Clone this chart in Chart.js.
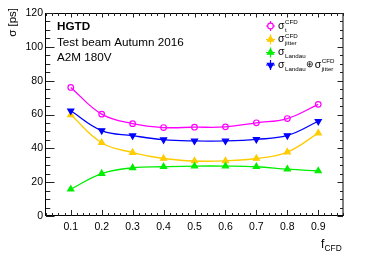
<!DOCTYPE html>
<html><head><meta charset="utf-8">
<script src="https://cdn.jsdelivr.net/npm/chart.js@4/dist/chart.umd.min.js"></script>
<style>html,body{margin:0;padding:0;background:#fff}canvas{display:block}</style>
</head><body>
<canvas id="c" width="381" height="258"></canvas>
<script>
const fCFD = [0.1, 0.2, 0.3, 0.4, 0.5, 0.6, 0.7, 0.8, 0.9];
const sigmaT = [76, 60.2, 54.6, 52.3, 52.5, 52.7, 55.1, 57.6, 66];
const sigmaJitter = [59.8, 43.3, 37.5, 34, 32.5, 32.6, 34, 37.8, 49];
const sigmaLandau = [15.8, 25.1, 28.5, 29.1, 29.5, 29.5, 29.1, 27.7, 26.6];
const sigmaComb = [62.2, 50.5, 47.5, 45.1, 44.4, 44.4, 45.3, 47.6, 56];
const xTicks = [0.1, 0.2, 0.3, 0.4, 0.5, 0.6, 0.7, 0.8, 0.9];
const yTicks = [0, 20, 40, 60, 80, 100, 120];

const FONT = '"Liberation Sans", Arial, Helvetica, sans-serif';
const pts = arr => fCFD.map((x, i) => ({x: x, y: arr[i]}));

function txt(ctx, s, x, y, size, bold) {
  ctx.font = (bold ? 'bold ' : '') + size + 'px ' + FONT;
  ctx.fillText(s, x, y);
  return ctx.measureText(s).width;
}

const series = [
  {data: sigmaT, color: '#ff00ff', style: 'circle', rot: 0, r: 2.8, open: true},
  {data: sigmaJitter, color: '#ffcc00', style: 'triangle', rot: 0, r: 3.5},
  {data: sigmaLandau, color: '#00ee00', style: 'triangle', rot: 0, r: 3.5},
  {data: sigmaComb, color: '#0000ff', style: 'triangle', rot: 180, r: 3.5}
];

const framePlugin = {
  id: 'frame',
  beforeDatasetsDraw(chart) {
    const ctx = chart.ctx, a = chart.chartArea;
    const xs = chart.scales.x, ys = chart.scales.y;
    ctx.save();
    ctx.strokeStyle = '#000';
    ctx.lineWidth = 1;
    ctx.beginPath();
    ctx.moveTo(a.left - 0.5, a.top + 0.5); ctx.lineTo(a.right, a.top + 0.5);
    ctx.moveTo(a.left - 0.5, a.top); ctx.lineTo(a.left - 0.5, a.bottom);
    ctx.moveTo(a.left - 0.5, a.bottom - 0.5); ctx.lineTo(a.right, a.bottom - 0.5);
    ctx.moveTo(a.right, a.top); ctx.lineTo(a.right, a.bottom);
    ctx.stroke();
    ctx.strokeStyle = '#222';
    ctx.beginPath();
    for (let v = 0; v <= 120.001; v += 5) {
      const y = Math.round(ys.getPixelForValue(v)) + 0.5;
      const major = Math.abs(v % 20) < 1e-6;
      ctx.moveTo(a.left, y); ctx.lineTo(a.left + (major ? 8.5 : 4.3), y);
      ctx.moveTo(a.right, y); ctx.lineTo(a.right - (major ? 5.5 : 3), y);
    }
    for (let k = 1; k <= 49; k++) {
      const v = k * 0.02;
      const x = Math.round(xs.getPixelForValue(v)) + 0.5;
      const major = (k % 5) === 0;
      ctx.moveTo(x, a.bottom); ctx.lineTo(x, a.bottom - (major ? 6 : 3));
      ctx.moveTo(x, a.top); ctx.lineTo(x, a.top + (major ? 4.5 : 3));
    }
    ctx.stroke();
    ctx.restore();
  },
  afterDraw(chart) {
    const ctx = chart.ctx;
    ctx.save();
    ctx.fillStyle = '#000';
    ctx.textBaseline = 'alphabetic';
    ctx.textAlign = 'left';
    txt(ctx, 'HGTD', 57, 29.5, 11.7, true);
    txt(ctx, 'Test beam Autumn 2016', 57, 45.5, 11.7);
    txt(ctx, 'A2M 180V', 57, 61, 11.7);
    ctx.save();
    ctx.translate(15.5, 8);
    ctx.rotate(-Math.PI / 2);
    ctx.textAlign = 'right';
    txt(ctx, 'σ [ps]', 0, 0, 11.5);
    ctx.restore();
    ctx.textAlign = 'left';
    const wf = txt(ctx, 'f', 321, 248, 12);
    txt(ctx, 'CFD', 321 + wf + 0.2, 251, 8.4);
    const rows = [26, 39.5, 52.5, 65];
    const mx = 270.5, tx = 278;
    series.forEach((s, i) => {
      const cy = rows[i];
      ctx.strokeStyle = s.color; ctx.lineWidth = 1.2;
      ctx.beginPath();
      ctx.moveTo(mx - 4.5, cy); ctx.lineTo(mx + 4.5, cy);
      ctx.moveTo(mx, cy - 5); ctx.lineTo(mx, cy + 5);
      ctx.stroke();
      ctx.fillStyle = s.open ? '#ffffff' : s.color;
      Chart.helpers.drawPoint(ctx, {pointStyle: s.style, rotation: s.rot, radius: s.r, borderWidth: 1.2}, mx, cy);
    });
    ctx.fillStyle = '#000';
    const SZ = 10.5, SS = 6.2;
    let b = rows[0] + 2.5, w;
    w = txt(ctx, 'σ', tx, b, SZ);
    txt(ctx, 'CFD', tx + w + 0.5, b - 4.3, SS);
    txt(ctx, 't', tx + w + 0.5, b + 3.3, SS);
    b = rows[1] + 2.5;
    w = txt(ctx, 'σ', tx, b, SZ);
    txt(ctx, 'CFD', tx + w + 0.5, b - 4.3, SS);
    txt(ctx, 'jitter', tx + w + 0.5, b + 3.3, SS);
    b = rows[2] + 2.5;
    w = txt(ctx, 'σ', tx, b, SZ);
    txt(ctx, 'Landau', tx + w + 0.5, b + 3.3, SS);
    b = rows[3] + 2.5;
    let x = tx;
    w = txt(ctx, 'σ', x, b, SZ); x += w + 0.5;
    w = txt(ctx, 'Landau', x, b + 3.3, SS); x += w + 0.8;
    w = txt(ctx, '⊕', x, b - 0.5, 8.5); x += w + 0.3;
    w = txt(ctx, 'σ', x, b, SZ); x += w + 0.5;
    txt(ctx, 'CFD', x, b - 4.3, SS);
    txt(ctx, 'jitter', x, b + 3.3, SS);
    ctx.restore();
  }
};

new Chart(document.getElementById('c'), {
  type: 'line',
  data: {
    datasets: series.map(s => ({
      data: pts(s.data),
      borderColor: s.color,
      backgroundColor: s.open ? 'rgba(0,0,0,0)' : s.color,
      pointBackgroundColor: s.open ? 'rgba(0,0,0,0)' : s.color,
      pointBorderColor: s.color,
      pointStyle: s.style,
      rotation: s.rot,
      pointRadius: s.r,
      pointBorderWidth: 1.2,
      borderWidth: 1.3,
      tension: 0.4,
      fill: false
    })).reverse()
  },
  options: {
    responsive: false,
    animation: false,
    devicePixelRatio: 1,
    layout: {padding: {top: 13, right: 38, left: 0, bottom: 0}},
    plugins: {legend: {display: false}, tooltip: {enabled: false}},
    scales: {
      x: {
        type: 'linear', min: 0.02, max: 0.98,
        afterBuildTicks: s => { s.ticks = xTicks.map(v => ({value: v})); },
        afterFit: s => { s.height = 42; },
        grid: {display: false, drawTicks: false},
        border: {display: false},
        ticks: {color: '#000', padding: 5, font: {family: FONT, size: 10.5}, maxRotation: 0,
                callback: v => v.toFixed(1)}
      },
      y: {
        type: 'linear', min: 0, max: 120,
        afterBuildTicks: s => { s.ticks = yTicks.map(v => ({value: v})); },
        afterFit: s => { s.width = 46; },
        grid: {display: false, drawTicks: false},
        border: {display: false},
        ticks: {color: '#000', padding: 3, font: {family: FONT, size: 10.5},
                callback: v => String(v)}
      }
    }
  },
  plugins: [framePlugin]
});
</script>
</body></html>
